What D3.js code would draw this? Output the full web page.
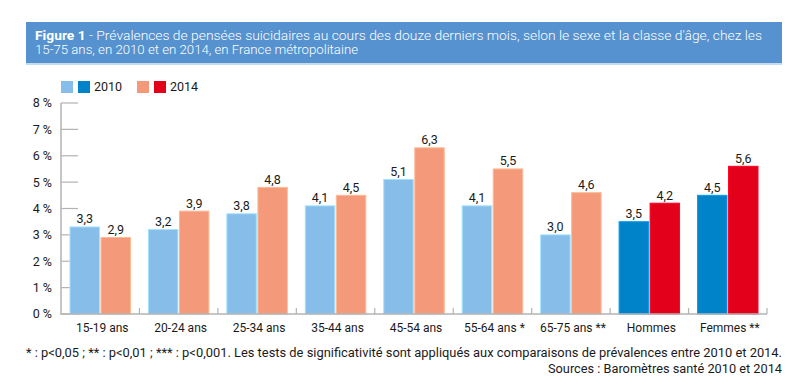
<!DOCTYPE html>
<html><head><meta charset="utf-8">
<script src="https://cdn.jsdelivr.net/npm/d3@7"></script>
<style>
body{margin:0;background:#fff;}
svg{display:block;font-family:Roboto,"DejaVu Sans",sans-serif;}
</style></head>
<body><svg id="c" width="792" height="386"></svg>
<script>
const categories = ["15-19 ans","20-24 ans","25-34 ans","35-44 ans","45-54 ans","55-64 ans *","65-75 ans **","Hommes","Femmes **"];
const values2010 = [3.3,3.2,3.8,4.1,5.1,4.1,3.0,3.5,4.5];
const values2014 = [2.9,3.9,4.8,4.5,6.3,5.5,4.6,4.2,5.6];
const groupType = ["age","age","age","age","age","age","age","sexe","sexe"];
const yTicks = [0,1,2,3,4,5,6,7,8];
const years = ["2010","2014"];

const colors = {
  age:  {"2010":"#86bde9","2014":"#f49a7b"},
  sexe: {"2010":"#0083c9","2014":"#e3001b"}
};
const fmt = v => d3.format(".1f")(v).replace(".", ",");

const svg = d3.select("#c");
const x0 = 61, x1 = 767, yTop = 103, yBot = 314;

// Title box
svg.append("rect").attr("x",26).attr("y",22).attr("width",756).attr("height",41).attr("fill","#5592cf");
svg.append("rect").attr("x",26).attr("y",63).attr("width",756).attr("height",2).attr("fill","#c5dbef");
const t1 = svg.append("text").attr("x",35).attr("y",40).attr("fill","#fff").attr("font-size",12.5)
  .attr("textLength",727).attr("lengthAdjust","spacingAndGlyphs");
t1.append("tspan").attr("font-weight","bold").text("Figure 1");
t1.append("tspan").attr("font-weight","300").text(" - Prévalences de pensées suicidaires au cours des douze derniers mois, selon le sexe et la classe d'âge, chez les");
svg.append("text").attr("x",35).attr("y",54).attr("fill","#fff").attr("font-size",12.5).attr("font-weight","300")
  .attr("textLength",323).attr("lengthAdjust","spacingAndGlyphs")
  .text("15-75 ans, en 2010 et en 2014, en France métropolitaine");

// Scales
const x = d3.scaleBand().domain(categories).range([x0,x1]).paddingInner(0).paddingOuter(0);
const xs = d3.scaleBand().domain(years).range([9, x.bandwidth()-9]).paddingInner(0.05);
const y = d3.scaleLinear().domain([0,8]).range([yBot,yTop]);

// Y axis: ticks
const gy = svg.append("g");
gy.selectAll("line.t").data(yTicks).join("line")
  .attr("x1",x0).attr("x2",78).attr("y1",d=>y(d)).attr("y2",d=>y(d))
  .attr("stroke","#b3b3b3").attr("stroke-width",1.2);
gy.selectAll("text").data(yTicks).join("text")
  .attr("x",52).attr("y",d=>y(d)).attr("dy","0.35em").attr("text-anchor","end")
  .attr("font-size",12.5).attr("fill","#1a1a1a").text(d=>d+" %");

// Bars
const groups = svg.append("g").selectAll("g").data(categories).join("g")
  .attr("transform",d=>`translate(${x(d)},0)`);
groups.each(function(cat,i){
  const g = d3.select(this);
  const vals = [values2010[i], values2014[i]];
  years.forEach((yr,k)=>{
    const c = colors[groupType[i]][yr];
    g.append("rect").attr("x",xs(yr)).attr("width",xs.bandwidth())
      .attr("y",y(vals[k])).attr("height",y(0)-y(vals[k]))
      .attr("fill",c).attr("stroke",d3.color(c).brighter(0.5)).attr("stroke-width",1);
    g.append("text").attr("x",xs(yr)+xs.bandwidth()/2).attr("y",y(vals[k])-3.5)
      .attr("text-anchor","middle").attr("font-size",12.5).attr("fill","#1a1a1a").text(fmt(vals[k]));
  });
});

// Axis lines
svg.append("line").attr("x1",x0).attr("x2",x0).attr("y1",yTop).attr("y2",yBot+1).attr("stroke","#b3b3b3").attr("stroke-width",1.5);
svg.append("line").attr("x1",x0).attr("x2",x1).attr("y1",yBot).attr("y2",yBot).attr("stroke","#b3b3b3").attr("stroke-width",1.5);
svg.append("g").selectAll("line").data(categories).join("line")
  .attr("x1",d=>x(d)+x.bandwidth()).attr("x2",d=>x(d)+x.bandwidth())
  .attr("y1",yBot-6).attr("y2",yBot).attr("stroke","#b3b3b3").attr("stroke-width",1.2);

// Category labels
svg.append("g").selectAll("text").data(categories).join("text")
  .attr("x",d=>x(d)+x.bandwidth()/2+2).attr("y",332).attr("text-anchor","middle")
  .attr("font-size",12).attr("fill","#1a1a1a").text(d=>d);

// Legend
const leg = [{x:61,yr:"2010"},{x:137,yr:"2014"}];
leg.forEach(l=>{
  svg.append("rect").attr("x",l.x).attr("y",81).attr("width",12).attr("height",12).attr("fill",colors.age[l.yr]);
  svg.append("rect").attr("x",l.x+17).attr("y",81).attr("width",12).attr("height",12).attr("fill",colors.sexe[l.yr]);
  svg.append("text").attr("x",l.x+33).attr("y",91).attr("font-size",12.5).attr("fill","#1a1a1a").text(l.yr);
});

// Footnotes
svg.append("text").attr("x",26).attr("y",357).attr("font-size",12).attr("fill","#1a1a1a")
  .attr("textLength",756).attr("lengthAdjust","spacingAndGlyphs")
  .text("* : p<0,05 ; ** : p<0,01 ; *** : p<0,001. Les tests de significativité sont appliqués aux comparaisons de prévalences entre 2010 et 2014.");
svg.append("text").attr("x",548).attr("y",373).attr("font-size",12).attr("fill","#1a1a1a")
  .attr("textLength",234).attr("lengthAdjust","spacingAndGlyphs")
  .text("Sources : Baromètres santé 2010 et 2014");
</script></body></html>
